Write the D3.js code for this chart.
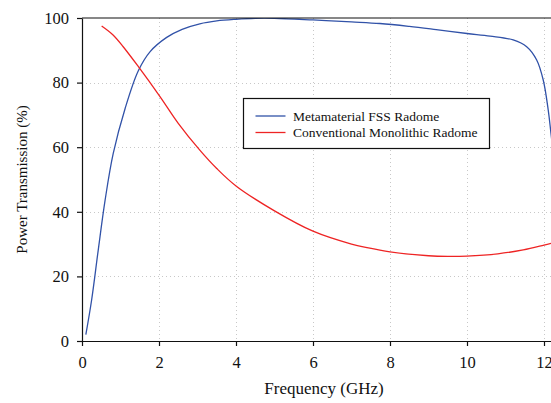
<!DOCTYPE html>
<html>
<head>
<meta charset="utf-8">
<script src="https://cdn.jsdelivr.net/npm/d3@7"></script>
<style>
  body { margin: 0; background: #fff; }
</style>
</head>
<body>
<div id="myPlot"></div>
<script>
// Metamaterial FSS radome (blue)
const fssFreq = [0.1, 0.25, 0.42, 0.6, 0.81, 1.12, 1.46, 1.77, 2.2, 2.6, 3.06, 3.5, 4.0, 4.5, 5.0, 6.0, 7.0, 7.74, 8.5, 9.2, 10.0, 10.6, 11.2, 11.55, 11.81, 11.98, 12.11, 12.18, 12.3];
const fssVal  = [2, 12.7, 28, 43.6, 58, 72, 83.6, 89.6, 94, 96.5, 98.2, 99.1, 99.6, 99.9, 99.9, 99.4, 98.8, 98.3, 97.4, 96.4, 95.2, 94.4, 93.2, 91.1, 87, 80.8, 71.5, 64.4, 52];

// Conventional monolithic radome (red)
const monoFreq = [0.51, 0.8, 1.07, 1.46, 2.03, 2.5, 3.06, 3.5, 4.0, 5.0, 6.0, 7.0, 7.4, 8.0, 9.0, 9.5, 10.0, 10.8, 11.46, 12.0, 12.3];
const monoVal  = [97.5, 94.8, 91.1, 85, 75.6, 67.4, 59.1, 53.4, 48, 40.3, 34, 30, 28.9, 27.6, 26.4, 26.2, 26.3, 27, 28.2, 29.7, 30.6];

const xTicks = [0, 2, 4, 6, 8, 10, 12];
const yTicks = [0, 20, 40, 60, 80, 100];
const seriesNames = ["Metamaterial FSS Radome", "Conventional Monolithic Radome"];
const seriesColors = ["#3152a8", "#ee2424"];

const serif = "'Liberation Serif', 'Times New Roman', Times, serif";
const width = 551, height = 403;
const marginLeft = 82, marginTop = 18, plotBottom = 341;

const x = d3.scaleLinear().domain([0, 12.5]).range([marginLeft, marginLeft + 12.5 * 38.5]);
const y = d3.scaleLinear().domain([0, 100]).range([plotBottom, marginTop]);

const svg = d3.select("#myPlot").append("svg")
    .attr("width", width).attr("height", height)
    .attr("viewBox", [0, 0, width, height]);

svg.append("defs").append("clipPath").attr("id", "clip")
  .append("rect")
    .attr("x", x(0)).attr("y", y(100))
    .attr("width", x(12.5) - x(0)).attr("height", y(0) - y(100));

// grid
const grid = svg.append("g")
    .attr("stroke", "#c8c8c8")
    .attr("stroke-width", 1)
    .attr("stroke-dasharray", "1,3");
grid.selectAll(".gx").data(xTicks.slice(1)).join("line")
    .attr("x1", d => Math.round(x(d)) + 0.5).attr("x2", d => Math.round(x(d)) + 0.5)
    .attr("y1", y(100)).attr("y2", y(0));
grid.selectAll(".gy").data(yTicks.slice(1, -1)).join("line")
    .attr("y1", d => Math.round(y(d)) + 0.5).attr("y2", d => Math.round(y(d)) + 0.5)
    .attr("x1", x(0)).attr("x2", x(12.5));

// lines
const line = d3.line().x(d => x(d[0])).y(d => y(d[1])).curve(d3.curveCatmullRom.alpha(0.5));
const series = [d3.zip(fssFreq, fssVal), d3.zip(monoFreq, monoVal)];
svg.append("g")
    .attr("clip-path", "url(#clip)")
    .attr("fill", "none")
  .selectAll("path")
  .data(series)
  .join("path")
    .attr("stroke", (d, i) => seriesColors[i])
    .attr("stroke-width", 1.3)
    .attr("d", line);

// axes
svg.append("g")
    .attr("transform", `translate(0,${plotBottom})`)
    .call(d3.axisBottom(x).tickValues(xTicks).tickSize(5).tickPadding(10).tickSizeOuter(0))
    .attr("font-family", serif).attr("font-size", 16.5)
    .call(g => g.selectAll("text").attr("fill", "#111"))
    .call(g => g.selectAll("line, path").attr("stroke", "#111").attr("stroke-width", 1.2));

svg.append("g")
    .attr("transform", `translate(${marginLeft},0)`)
    .call(d3.axisLeft(y).tickValues(yTicks).tickSize(5).tickPadding(8).tickSizeOuter(0))
    .attr("font-family", serif).attr("font-size", 16.5)
    .call(g => g.selectAll("text").attr("fill", "#111"))
    .call(g => g.selectAll("line, path").attr("stroke", "#111").attr("stroke-width", 1.2));

// top spine
svg.append("line")
    .attr("x1", x(0)).attr("x2", width)
    .attr("y1", y(100)).attr("y2", y(100))
    .attr("stroke", "#111").attr("stroke-width", 1.2);

// axis labels
svg.append("text")
    .attr("x", 324).attr("y", 394)
    .attr("text-anchor", "middle")
    .attr("font-family", serif).attr("font-size", 17)
    .attr("fill", "#111")
    .text("Frequency (GHz)");

svg.append("text")
    .attr("transform", `translate(27,${(104 + 255) / 2}) rotate(-90)`)
    .attr("text-anchor", "middle")
    .attr("font-family", serif).attr("font-size", 15)
    .attr("fill", "#111")
    .text("Power Transmission (%)");

// legend
const legend = svg.append("g").attr("transform", "translate(243.5,98.5)");
legend.append("rect")
    .attr("width", 246).attr("height", 50)
    .attr("fill", "#fff").attr("stroke", "#111").attr("stroke-width", 1.2);
seriesNames.forEach((name, i) => {
  const yy = 17.5 + i * 16.5;
  legend.append("line")
      .attr("x1", 12).attr("x2", 42).attr("y1", yy).attr("y2", yy)
      .attr("stroke", seriesColors[i]).attr("stroke-width", 1.3);
  legend.append("text")
      .attr("x", 49.5).attr("y", yy + 4.5)
      .attr("font-family", serif).attr("font-size", 13.5)
      .attr("fill", "#111")
      .text(name);
});
</script>
</body>
</html>
